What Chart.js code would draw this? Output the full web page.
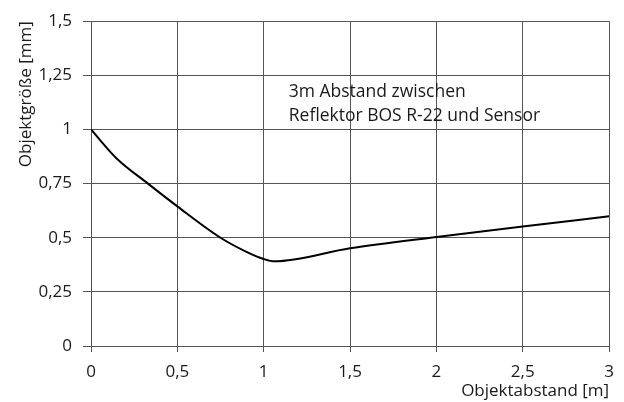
<!DOCTYPE html>
<html>
<head>
<meta charset="utf-8">
<script src="https://cdn.jsdelivr.net/npm/chart.js@4"></script>
<style>
  html, body { margin: 0; padding: 0; background: #fff; }
  #wrap { width: 624px; height: 402px; }
</style>
</head>
<body>
<div id="wrap"><canvas id="chart"></canvas></div>
<script>
// values
const distance = [0, 0.15, 0.33, 0.5, 0.75, 0.9, 1.0, 1.06, 1.5, 2.0, 2.5, 3.0];
const objSize  = [1.0, 0.865, 0.75, 0.645, 0.5, 0.435, 0.402, 0.391, 0.451, 0.503, 0.552, 0.599];
const noteLines = ["3m Abstand zwischen", "Reflektor BOS R-22 und Sensor"];

const FONT = "'Open Sans', sans-serif";
const gridColor = "#555";

// text note inside the plot
const notePlugin = {
  id: "note",
  afterDraw(chart) {
    const { ctx, scales } = chart;
    ctx.save();
    ctx.font = "17.5px " + FONT;
    ctx.fillStyle = "#1a1a1a";
    ctx.textBaseline = "middle";
    const x = scales.x.getPixelForValue(1.145);
    const y = scales.y.getPixelForValue(1.175);
    noteLines.forEach((t, i) => ctx.fillText(t, x, y + i * 24));
    ctx.restore();
  }
};

new Chart(document.getElementById("chart"), {
  type: "line",
  data: {
    datasets: [{
      data: distance.map((d, i) => ({ x: d, y: objSize[i] })),
      borderColor: "#000",
      borderWidth: 2,
      pointRadius: 0,
      cubicInterpolationMode: "monotone",
      fill: false
    }]
  },
  options: {
    responsive: true,
    maintainAspectRatio: false,
    animation: false,
    layout: { padding: { top: 18, right: 11, left: 0, bottom: 0 } },
    plugins: { legend: { display: false }, tooltip: { enabled: false } },
    scales: {
      x: {
        type: "linear",
        min: 0, max: 3,
        ticks: {
          stepSize: 0.5,
          color: "#1a1a1a",
          font: { family: FONT, size: 17 },
          padding: 10,
          maxRotation: 0,
          callback: (v) => String(v).replace(".", ",")
        },
        grid: { color: gridColor, lineWidth: 1, tickLength: 6 },
        border: { color: gridColor },
        title: {
          display: true,
          text: "Objektabstand [m]",
          align: "end",
          color: "#1a1a1a",
          font: { family: FONT, size: 17 },
          padding: { top: 0, bottom: 1 }
        },
        afterFit: (s) => { s.height = 56; }
      },
      y: {
        min: 0, max: 1.5,
        ticks: {
          stepSize: 0.25,
          color: "#1a1a1a",
          font: { family: FONT, size: 17 },
          padding: 11,
          callback: (v) => String(v).replace(".", ",")
        },
        grid: { color: gridColor, lineWidth: 1, tickLength: 8 },
        border: { color: gridColor },
        title: {
          display: true,
          text: "Objektgröße [mm]",
          align: "end",
          color: "#1a1a1a",
          font: { family: FONT, size: 17 },
          padding: { top: 16, bottom: 0 }
        },
        afterFit: (s) => { s.width = 91; }
      }
    }
  },
  plugins: [notePlugin]
});
</script>
</body>
</html>
